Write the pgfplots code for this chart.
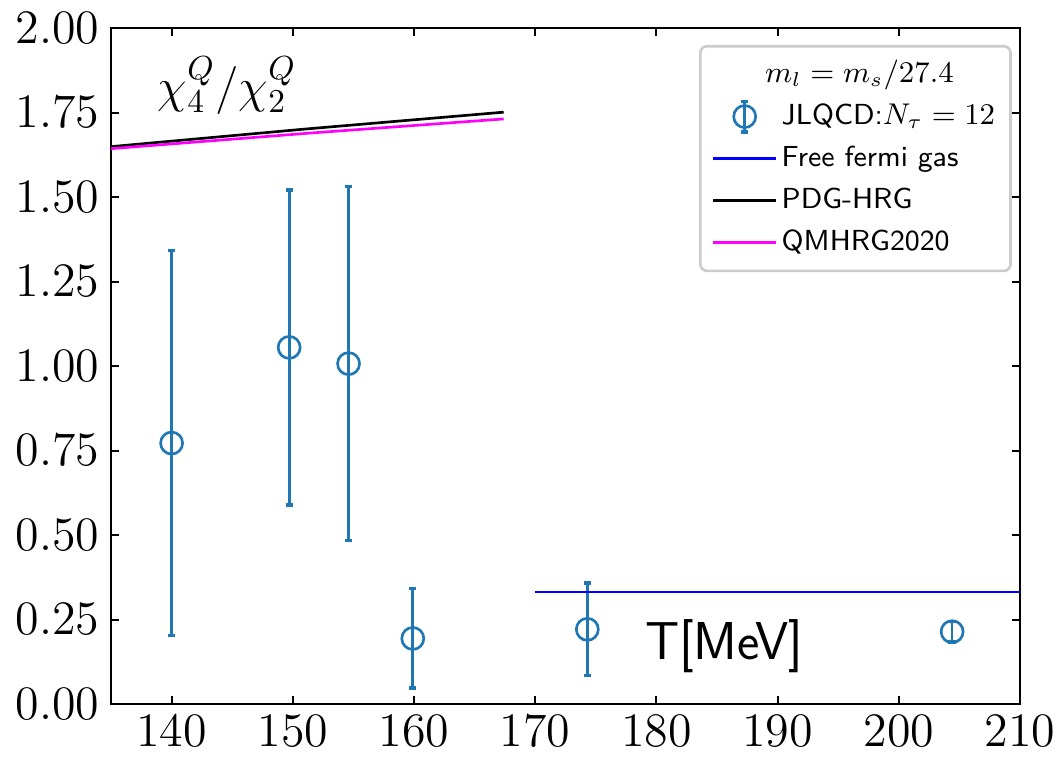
\documentclass[border=0pt]{standalone}
\usepackage{pgfplots}
\pgfplotsset{compat=1.18}
\definecolor{mplblue}{HTML}{1F77B4}
\definecolor{puremagenta}{RGB}{255,0,255}
\definecolor{pureblue}{RGB}{0,0,255}

\pgfplotsset{
  linelegend/.style={legend image code/.code={\draw[##1] (0pt,0pt) -- (19pt,0pt);}},
  errlegend/.style={legend image code/.code={
    \draw[mplblue, line width=0.8pt] (9.5pt,-4.6pt) -- (9.5pt,4.6pt);
    \draw[mplblue, line width=1pt] (8.4pt,4.6pt) -- (10.6pt,4.6pt);
    \draw[mplblue, line width=1pt] (8.4pt,-4.6pt) -- (10.6pt,-4.6pt);
    \draw[mplblue, line width=0.8pt] (9.5pt,0pt) circle (3.3pt);}},
}

% JLQCD N_tau = 12 data: T [MeV], chi4/chi2, error
\pgfplotstableread{
x      y      e
140.0  0.772  0.570
149.7  1.055  0.466
154.6  1.007  0.524
159.9  0.194  0.147
174.3  0.221  0.137
204.4  0.214  0.030
}\jlqcd

\begin{document}
\begin{tikzpicture}
\begin{axis}[
  scale only axis,
  width=272.7pt, height=202.8pt,
  xmin=135, xmax=210, ymin=0, ymax=2,
  xtick={140,150,...,210},
  ytick={0,0.25,...,2},
  tick align=inside,
  xtick pos=both, ytick pos=both,
  major tick length=2.5pt,
  axis line style={line width=0.6pt},
  every tick/.style={black, line width=0.6pt},
  tick label style={font=\fontsize{14}{16}\selectfont},
  yticklabel style={inner xsep=3.3pt, inner ysep=0pt,
    /pgf/number format/.cd, fixed, fixed zerofill, precision=2},
  xticklabel style={inner ysep=3.3pt, inner xsep=0pt,
    /pgf/number format/1000 sep={}},
  legend style={at={(0.991,0.975)}, anchor=north east,
    draw=black!20, rounded corners=2pt, line width=0.8pt,
    font=\fontsize{8.7}{10.5}\selectfont\sffamily,
    row sep=0pt, inner xsep=3.4pt, inner ysep=2.2pt,
    nodes={inner xsep=1.2pt, inner ysep=0pt, text height=8.8pt, text depth=3.8pt}},
  legend cell align=left,
]
\addlegendimage{empty legend}
\addlegendentry{\hspace*{-5pt}$m_l = m_s/27.4$}

\addplot[mplblue, only marks, mark=o, mark size=3.3pt,
  mark options={line width=0.8pt}, errlegend,
  error bars/.cd, y dir=both, y explicit,
  error bar style={line width=0.8pt, mplblue},
  error mark options={rotate=90, mark size=1.1pt, line width=1pt, mplblue},
  ]
  table[x=x, y=y, y error=e] {\jlqcd};
\addlegendentry{JLQCD:$N_\tau = 12$}

\addplot[pureblue, line width=0.8pt, linelegend]
  coordinates {(170,0.331) (210,0.331)};
\addlegendentry{Free fermi gas}

\addplot[black, line width=0.8pt, linelegend]
  coordinates {(135,1.649) (151,1.701) (167.4,1.751)};
\addlegendentry{PDG-HRG}

\addplot[puremagenta, line width=0.8pt, linelegend]
  coordinates {(135,1.643) (151,1.688) (167.4,1.731)};
\addlegendentry{QMHRG2020}

\node[anchor=west, font=\fontsize{14}{16}\selectfont] at (axis cs:137.9,1.83) {$\chi_4^Q/\chi_2^Q$};
\node[font=\fontsize{16}{18}\selectfont\sffamily] at (axis cs:185.6,0.17) {T[MeV]};
\end{axis}
\path ([shift={(-33.3pt,-15.3pt)}]current axis.south west)
  rectangle ([shift={(11.7pt,8.4pt)}]current axis.north east);
\end{tikzpicture}
\end{document}
